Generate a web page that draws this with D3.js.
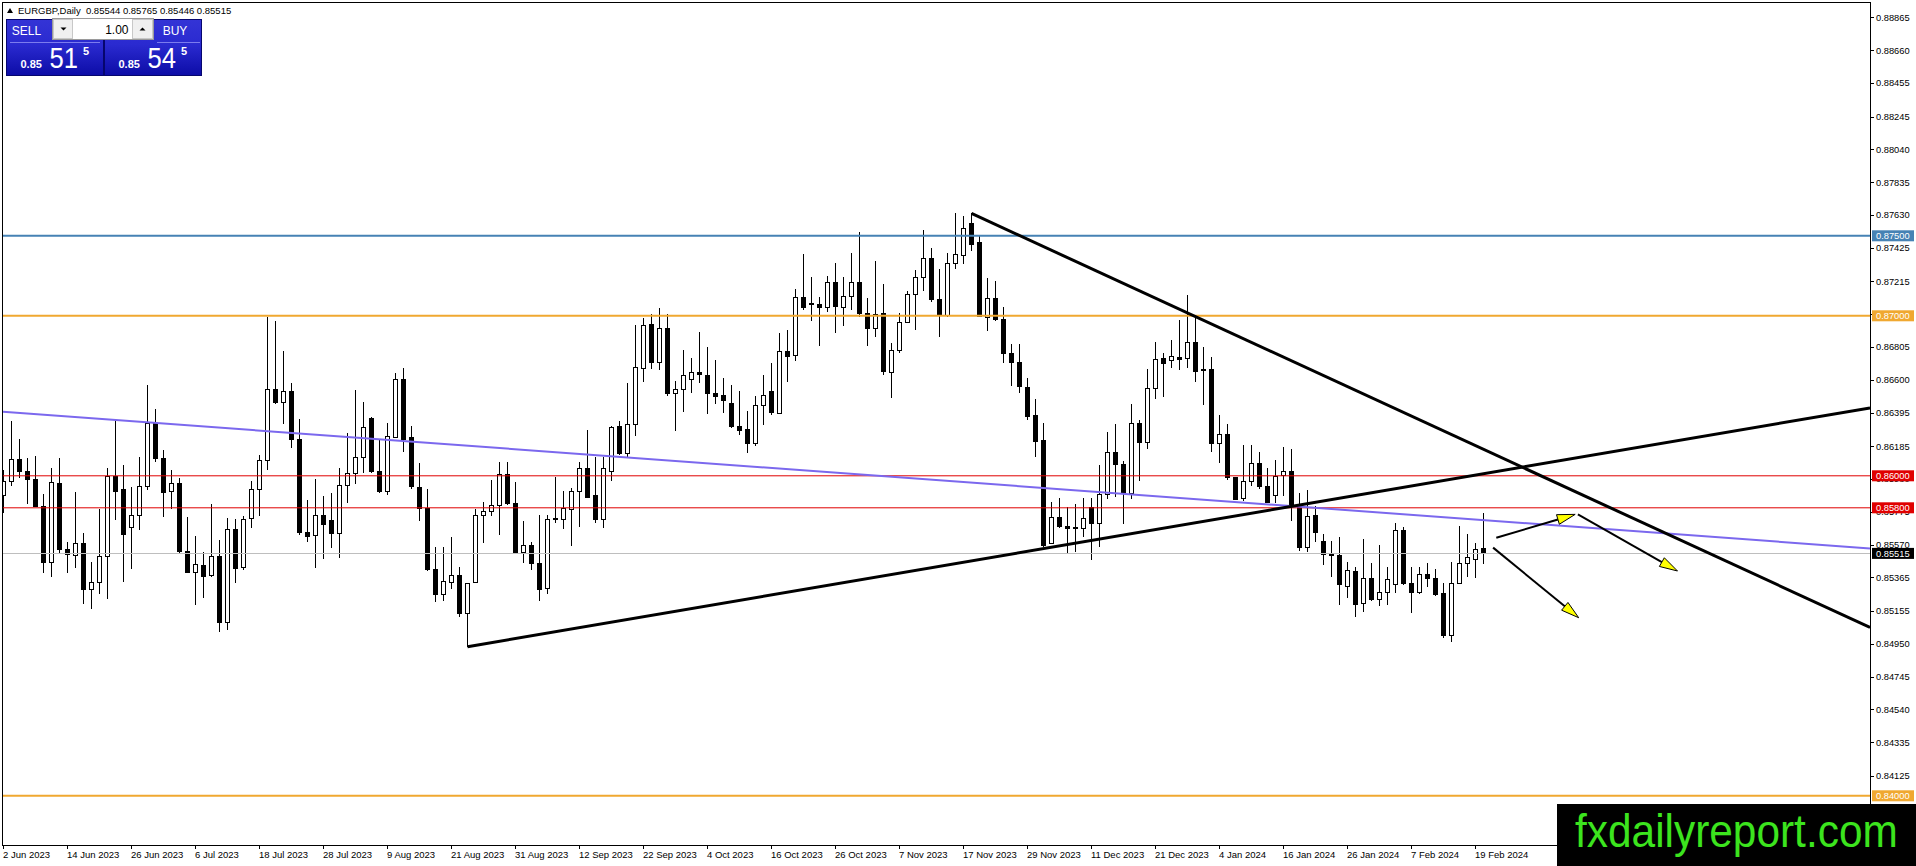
<!DOCTYPE html>
<html><head><meta charset="utf-8">
<script src="https://cdn.jsdelivr.net/npm/d3@7"></script>
<style>
html,body{margin:0;padding:0;background:#fff;overflow:hidden}
svg{display:block}
text{font-family:'Liberation Sans',Arial,sans-serif}
</style>
</head><body>
<svg id="chart" width="1916" height="866"></svg>
<script>
// ---------------- data (EURGBP Daily, 2 Jun 2023 – 20 Feb 2024) ----------------
const symbol = "EURGBP,Daily";
const opens = [0.85880,0.85964,0.86103,0.86028,0.85978,0.85807,0.85459,0.85953,0.85541,0.85503,
0.85578,0.85291,0.85334,0.85495,0.85995,0.85912,0.85678,0.85751,0.85932,0.86328,
0.86109,0.85901,0.85949,0.85530,0.85397,0.85439,0.85374,0.85495,0.85082,0.85662,
0.85426,0.85734,0.85916,0.86095,0.86537,0.86459,0.86530,0.86228,0.85647,0.85624,
0.85751,0.85718,0.85641,0.85937,0.86016,0.86116,0.86359,0.86030,0.85905,0.86241,
0.86599,0.86241,0.85928,0.85793,0.85416,0.85259,0.85334,0.85376,0.85141,0.85334,
0.85751,0.85776,0.85814,0.86009,0.85828,0.85522,0.85564,0.85453,0.85297,0.85724,
0.85724,0.85791,0.85901,0.86047,0.85874,0.85728,0.86026,0.86307,0.86137,0.86322,
0.86672,0.86943,0.86707,0.86922,0.86516,0.86541,0.86603,0.86647,0.86630,0.86516,
0.86499,0.86453,0.86307,0.86287,0.86203,0.86439,0.86530,0.86391,0.86780,0.86749,
0.87116,0.87078,0.87072,0.87053,0.87209,0.87053,0.87120,0.87209,0.87016,0.86922,
0.87016,0.86647,0.86782,0.86959,0.87134,0.87241,0.87359,0.87099,0.87005,0.87328,
0.87380,0.87574,0.87457,0.86991,0.87109,0.86974,0.86766,0.86709,0.86553,0.86374,
0.86220,0.85578,0.85741,0.85682,0.85670,0.85672,0.85803,0.85699,0.85884,0.86147,
0.86072,0.85891,0.86328,0.86209,0.86547,0.86734,0.86718,0.86740,0.86734,0.86834,
0.86665,0.86665,0.86203,0.86259,0.85990,0.85859,0.85967,0.86074,0.85936,0.85880,
0.85999,0.86026,0.85818,0.85553,0.85751,0.85592,0.85515,0.85501,0.85311,0.85405,
0.85199,0.85359,0.85224,0.85272,0.85322,0.85661,0.85324,0.85272,0.85384,0.85359,
0.85265,0.85001,0.85328,0.85453,0.85478,0.85544];
const highs = [0.86037,0.86343,0.86230,0.86112,0.86124,0.85884,0.86047,0.86109,0.85584,0.85897,
0.85641,0.85459,0.85793,0.86047,0.86345,0.86068,0.85928,0.86120,0.86568,0.86418,
0.86162,0.86037,0.85984,0.85741,0.85624,0.85522,0.85824,0.85599,0.85734,0.85728,
0.85749,0.85968,0.86130,0.86995,0.86970,0.86782,0.86582,0.86353,0.85849,0.85980,
0.85874,0.85895,0.86047,0.86270,0.86537,0.86464,0.86366,0.86224,0.86328,0.86641,
0.86672,0.86312,0.86078,0.85916,0.85553,0.85553,0.85616,0.85432,0.85332,0.85793,
0.85839,0.85974,0.86084,0.86084,0.85964,0.85718,0.85584,0.85755,0.85755,0.85995,
0.85907,0.85922,0.86089,0.86287,0.86120,0.86120,0.86312,0.86345,0.86578,0.86943,
0.86984,0.87012,0.87047,0.87012,0.86595,0.86787,0.86734,0.86897,0.86803,0.86724,
0.86609,0.86568,0.86532,0.86407,0.86501,0.86630,0.86703,0.86891,0.86911,0.87166,
0.87386,0.87241,0.87116,0.87249,0.87332,0.87241,0.87391,0.87522,0.87109,0.87343,
0.87197,0.86828,0.87016,0.87157,0.87286,0.87536,0.87422,0.87291,0.87391,0.87640,
0.87624,0.87640,0.87499,0.87234,0.87220,0.87053,0.86822,0.86822,0.86609,0.86478,
0.86332,0.85834,0.85859,0.85807,0.85822,0.85864,0.85859,0.86068,0.86272,0.86324,
0.86093,0.86449,0.86349,0.86666,0.86834,0.86770,0.86846,0.86974,0.87130,0.86984,
0.86807,0.86744,0.86380,0.86321,0.85994,0.86192,0.86192,0.86151,0.86047,0.86099,
0.86182,0.86165,0.85890,0.85911,0.85811,0.85636,0.85595,0.85620,0.85463,0.85432,
0.85603,0.85457,0.85568,0.85432,0.85703,0.85682,0.85432,0.85432,0.85453,0.85415,
0.85332,0.85463,0.85686,0.85634,0.85578,0.85765];
const lows = [0.85766,0.85939,0.85984,0.85822,0.85803,0.85391,0.85370,0.85512,0.85391,0.85422,
0.85197,0.85166,0.85259,0.85228,0.85724,0.85339,0.85416,0.85662,0.85912,0.86089,
0.85745,0.85791,0.85516,0.85395,0.85193,0.85234,0.85370,0.85022,0.85037,0.85332,
0.85412,0.85676,0.85749,0.86037,0.86449,0.86324,0.86172,0.85630,0.85589,0.85426,
0.85478,0.85547,0.85489,0.85828,0.85947,0.86016,0.86020,0.85895,0.85880,0.86234,
0.86151,0.85916,0.85720,0.85407,0.85214,0.85220,0.85291,0.85120,0.84932,0.85332,
0.85582,0.85749,0.85630,0.85818,0.85520,0.85453,0.85412,0.85218,0.85262,0.85703,
0.85666,0.85562,0.85682,0.85859,0.85707,0.85672,0.85968,0.86130,0.86116,0.86251,
0.86589,0.86666,0.86662,0.86499,0.86282,0.86401,0.86516,0.86578,0.86384,0.86449,
0.86391,0.86301,0.86255,0.86145,0.86189,0.86318,0.86380,0.86387,0.86588,0.86720,
0.87036,0.86970,0.86814,0.87026,0.86895,0.86937,0.87036,0.86991,0.86814,0.86870,
0.86630,0.86484,0.86770,0.86953,0.86911,0.87157,0.87088,0.86870,0.86991,0.87293,
0.87324,0.87407,0.86991,0.86905,0.86970,0.86703,0.86561,0.86516,0.86349,0.86120,
0.85557,0.85572,0.85672,0.85516,0.85526,0.85620,0.85474,0.85557,0.85855,0.85870,
0.85699,0.85855,0.85968,0.86166,0.86478,0.86491,0.86672,0.86661,0.86672,0.86584,
0.86442,0.86151,0.86082,0.85974,0.85849,0.85842,0.85936,0.85915,0.85828,0.85828,
0.85874,0.85719,0.85532,0.85526,0.85588,0.85443,0.85365,0.85193,0.85234,0.85115,
0.85151,0.85220,0.85188,0.85193,0.85270,0.85318,0.85141,0.85261,0.85303,0.85249,
0.84984,0.84963,0.85324,0.85370,0.85359,0.85446];
const closes = [0.85964,0.86103,0.86026,0.85978,0.85807,0.85459,0.85959,0.85541,0.85509,0.85578,
0.85287,0.85332,0.85495,0.85995,0.85901,0.85634,0.85751,0.85932,0.86328,0.86107,
0.85895,0.85949,0.85526,0.85397,0.85447,0.85370,0.85495,0.85082,0.85662,0.85422,
0.85724,0.85916,0.86095,0.86537,0.86457,0.86530,0.86228,0.85645,0.85620,0.85751,
0.85697,0.85641,0.85937,0.86016,0.86116,0.86303,0.86026,0.85901,0.86245,0.86599,
0.86224,0.85932,0.85797,0.85412,0.85259,0.85339,0.85374,0.85137,0.85328,0.85751,
0.85776,0.85814,0.86009,0.85824,0.85522,0.85564,0.85453,0.85291,0.85728,0.85732,
0.85797,0.85905,0.86047,0.85864,0.85724,0.86047,0.86301,0.86137,0.86322,0.86676,
0.86939,0.86707,0.86922,0.86512,0.86541,0.86624,0.86647,0.86634,0.86516,0.86495,
0.86470,0.86307,0.86282,0.86203,0.86439,0.86501,0.86395,0.86780,0.86745,0.87116,
0.87051,0.87068,0.87053,0.87209,0.87057,0.87120,0.87209,0.87016,0.86922,0.87009,
0.86651,0.86782,0.86959,0.87134,0.87238,0.87359,0.87099,0.87005,0.87328,0.87384,
0.87547,0.87447,0.86995,0.87109,0.86974,0.86766,0.86709,0.86557,0.86370,0.86213,
0.85563,0.85741,0.85682,0.85668,0.85674,0.85734,0.85699,0.85884,0.86147,0.86068,
0.85891,0.86328,0.86207,0.86547,0.86728,0.86703,0.86743,0.86730,0.86834,0.86655,
0.86659,0.86203,0.86259,0.85990,0.85855,0.85967,0.86074,0.85932,0.85832,0.85994,
0.86026,0.85818,0.85551,0.85744,0.85646,0.85509,0.85499,0.85318,0.85407,0.85197,
0.85359,0.85228,0.85272,0.85353,0.85657,0.85324,0.85272,0.85384,0.85359,0.85261,
0.85001,0.85328,0.85453,0.85490,0.85542,0.85515];

const dateLabels = ["2 Jun 2023","14 Jun 2023","26 Jun 2023","6 Jul 2023","18 Jul 2023","28 Jul 2023",
"9 Aug 2023","21 Aug 2023","31 Aug 2023","12 Sep 2023","22 Sep 2023","4 Oct 2023","16 Oct 2023",
"26 Oct 2023","7 Nov 2023","17 Nov 2023","29 Nov 2023","11 Dec 2023","21 Dec 2023","4 Jan 2024",
"16 Jan 2024","26 Jan 2024","7 Feb 2024","19 Feb 2024"];
const barsPerLabel = 8;

const priceTicks = [0.88865,0.88660,0.88455,0.88245,0.88040,0.87835,0.87630,0.87425,0.87215,0.87010,
0.86805,0.86600,0.86395,0.86185,0.85980,0.85775,0.85570,0.85365,0.85155,0.84950,0.84745,0.84540,
0.84335,0.84125];

const levelPrices = [0.87500, 0.87000, 0.86000, 0.85800, 0.84000];
const bidPrice = 0.85515, askPrice = 0.85545, lotSize = "1.00";

// drawn objects, anchors as [bar index, price]
const supportLine = [[58, 0.84932], [130, 0.85545]];
const resistanceLine = [[121, 0.87640], [212.1, 0.85541]];
const channelLine = [[0, 0.86400], [185, 0.85723]];
const arrowsUp = [[[186.6, 0.85613], [196.46, 0.85759]]];
const arrowsDown = [[[196.8, 0.85759], [209.25, 0.85405]], [[186.2, 0.85551], [196.9, 0.85113]]];

// ---------------- layout ----------------
const W = 1916, H = 866;
const P = {l: 3, t: 3, r: 1870, b: 845};
const levelStyle = {
  "0.87500": {color: "#4682B4", w: 2},
  "0.87000": {color: "#F0A830", w: 2},
  "0.86000": {color: "#E00000", w: 1},
  "0.85800": {color: "#E00000", w: 1},
  "0.84000": {color: "#F0A830", w: 2}
};

const svg = d3.select("#chart");
const x = d3.scaleLinear().domain([0, opens.length - 1]).range([3.5, 3.5 + 8 * (opens.length - 1)]);
const y = d3.scaleLinear().domain([0.836925, 0.88955]).range([P.b, P.t]);

const defs = svg.append("defs");
defs.append("clipPath").attr("id", "plotclip").append("rect")
  .attr("x", P.l).attr("y", P.t).attr("width", P.r - P.l).attr("height", P.b - P.t);
const grad = defs.append("linearGradient").attr("id", "pg").attr("x1", 0).attr("y1", 0).attr("x2", 0).attr("y2", 1);
grad.append("stop").attr("offset", 0).attr("stop-color", "#3434d6");
grad.append("stop").attr("offset", 0.45).attr("stop-color", "#2a2ad0");
grad.append("stop").attr("offset", 1).attr("stop-color", "#0c0ca6");

const plot = svg.append("g").attr("clip-path", "url(#plotclip)");

// candles
const bars = opens.map((o, i) => ({i, o, h: highs[i], l: lows[i], c: closes[i]}));
const cg = plot.append("g").attr("shape-rendering", "crispEdges");
cg.selectAll("line").data(bars).join("line")
  .attr("x1", d => x(d.i)).attr("x2", d => x(d.i))
  .attr("y1", d => y(d.h)).attr("y2", d => y(d.l))
  .attr("stroke", "#000").attr("stroke-width", 1);
cg.selectAll("rect").data(bars).join("rect")
  .attr("x", d => x(d.i) - 2).attr("width", 4)
  .attr("y", d => y(Math.max(d.o, d.c)))
  .attr("height", d => Math.max(0.6, Math.abs(y(d.o) - y(d.c))))
  .attr("fill", d => d.c >= d.o ? "#fff" : "#000")
  .attr("stroke", "#000").attr("stroke-width", 1);

// horizontal levels
const lg = plot.append("g");
lg.selectAll("line").data(levelPrices).join("line")
  .attr("x1", P.l).attr("x2", P.r)
  .attr("y1", d => y(d)).attr("y2", d => y(d))
  .attr("stroke", d => levelStyle[d.toFixed(5)].color)
  .attr("stroke-width", d => levelStyle[d.toFixed(5)].w);
// bid line
plot.append("line").attr("x1", P.l).attr("x2", P.r).attr("y1", y(bidPrice)).attr("y2", y(bidPrice))
  .attr("stroke", "#BEBEBE").attr("stroke-width", 1).attr("shape-rendering", "crispEdges");

// trendlines
const idxRight = x.invert(P.r), idxLeft = x.invert(P.l);
function priceAt(a, idx) {
  const [[i0, p0], [i1, p1]] = a;
  return p0 + (p1 - p0) * (idx - i0) / (i1 - i0);
}
function drawLine(a, from, to, color, w) {
  plot.append("line")
    .attr("x1", x(from)).attr("y1", y(priceAt(a, from)))
    .attr("x2", x(to)).attr("y2", y(priceAt(a, to)))
    .attr("stroke", color).attr("stroke-width", w).attr("stroke-linecap", "butt");
}
drawLine(channelLine, idxLeft, idxRight, "#7B68EE", 2);
drawLine(supportLine, supportLine[0][0], idxRight, "#000", 3);
drawLine(resistanceLine, resistanceLine[0][0], idxRight, "#000", 3);

// arrows
function drawArrow(a) {
  const sx = x(a[0][0]), sy = y(a[0][1]), tx = x(a[1][0]), ty = y(a[1][1]);
  const len = Math.hypot(tx - sx, ty - sy), ux = (tx - sx) / len, uy = (ty - sy) / len;
  const nx = -uy, ny = ux, hl = 18, hw = 5;
  const bx = tx - ux * hl, by = ty - uy * hl;
  plot.append("line").attr("x1", sx).attr("y1", sy).attr("x2", bx).attr("y2", by)
    .attr("stroke", "#000").attr("stroke-width", 2);
  plot.append("polygon")
    .attr("points", [[tx, ty], [bx + nx * hw, by + ny * hw], [bx - nx * hw, by - ny * hw]].map(p => p.join(",")).join(" "))
    .attr("fill", "#FFFF00").attr("stroke", "#000").attr("stroke-width", 1).attr("stroke-linejoin", "miter");
}
arrowsUp.concat(arrowsDown).forEach(drawArrow);

// frame
svg.append("rect").attr("x", P.l - 0.5).attr("y", P.t - 0.5).attr("width", P.r - P.l + 0.5).attr("height", P.b - P.t + 0.5)
  .attr("fill", "none").attr("stroke", "#000").attr("stroke-width", 1).attr("shape-rendering", "crispEdges");

// price axis
const ax = svg.append("g");
ax.selectAll("line").data(priceTicks).join("line")
  .attr("x1", P.r).attr("x2", P.r + 4).attr("y1", d => Math.round(y(d)) + 0.5).attr("y2", d => Math.round(y(d)) + 0.5)
  .attr("stroke", "#000").attr("stroke-width", 1);
ax.selectAll("text").data(priceTicks).join("text")
  .attr("x", P.r + 6).attr("y", d => y(d) + 3.3)
  .attr("font-size", "9.3px").attr("fill", "#000")
  .text(d => d.toFixed(5));

// level labels
const labels = levelPrices.map(p => ({p, bg: levelStyle[p.toFixed(5)].color})).concat([{p: bidPrice, bg: "#000"}]);
const lbl = svg.append("g").selectAll("g").data(labels).join("g");
lbl.append("rect").attr("x", P.r + 2).attr("y", d => y(d.p) - 5.5).attr("width", 42).attr("height", 11).attr("fill", d => d.bg);
lbl.append("text").attr("x", P.r + 6).attr("y", d => y(d.p) + 3.3).attr("font-size", "9.3px").attr("fill", "#fff")
  .text(d => d.p.toFixed(5));

// time axis
const tg = svg.append("g");
const tickIdx = dateLabels.map((d, k) => k * barsPerLabel);
tg.selectAll("line").data(tickIdx).join("line")
  .attr("x1", d => x(d)).attr("x2", d => x(d)).attr("y1", P.b).attr("y2", P.b + 4)
  .attr("stroke", "#000").attr("stroke-width", 1).attr("shape-rendering", "crispEdges");
tg.selectAll("text").data(dateLabels).join("text")
  .attr("x", (d, k) => x(tickIdx[k]) - 0.5).attr("y", 857.5)
  .attr("font-size", "9.5px").attr("fill", "#000")
  .text(d => d);

// header
const last = opens.length - 1;
svg.append("polygon").attr("points", "7,13 13,13 10,8").attr("fill", "#000");
svg.append("text").attr("x", 18).attr("y", 14).attr("font-size", "9.5px").attr("fill", "#000")
  .style("white-space", "pre")
  .text(symbol + "  " + [opens[last], highs[last], lows[last], closes[last]].map(v => v.toFixed(5)).join(" "));

// one-click trading panel
const pan = svg.append("g");
[[6.5, bidPrice], [104.5, askPrice]].forEach(([bx, price], k) => {
  pan.append("rect").attr("x", bx).attr("y", 19.5).attr("width", 97).attr("height", 56)
    .attr("fill", "url(#pg)").attr("stroke", "#06066e").attr("stroke-width", 1);
  const s = price.toFixed(5);
  pan.append("text").attr("x", bx + 14).attr("y", 68.3).attr("font-size", "11px").attr("font-weight", "bold")
    .attr("fill", "#fff").text(s.slice(0, 4));
  pan.append("text").attr("x", bx + 43).attr("y", 68.3).attr("font-size", "30px").attr("fill", "#fff")
    .attr("textLength", 28.5).attr("lengthAdjust", "spacingAndGlyphs").text(s.slice(4, 6));
  pan.append("text").attr("x", bx + 76.5).attr("y", 54.5).attr("font-size", "11px").attr("font-weight", "bold")
    .attr("fill", "#fff").text(s.slice(6));
});
pan.append("line").attr("x1", 10).attr("x2", 100).attr("y1", 42.5).attr("y2", 42.5).attr("stroke", "#7c7cee");
pan.append("line").attr("x1", 157).attr("x2", 200).attr("y1", 42.5).attr("y2", 42.5).attr("stroke", "#7c7cee");
pan.append("text").attr("x", 26.5).attr("y", 35).attr("text-anchor", "middle").attr("font-size", "12px").attr("fill", "#fff").text("SELL");
pan.append("text").attr("x", 175).attr("y", 35).attr("text-anchor", "middle").attr("font-size", "12px").attr("fill", "#fff").text("BUY");
// lot spinner
pan.append("rect").attr("x", 52.5).attr("y", 18.5).attr("width", 101).attr("height", 21).attr("fill", "#fff").attr("stroke", "#9a9a9a");
pan.append("rect").attr("x", 53.5).attr("y", 19.5).attr("width", 19).attr("height", 19).attr("fill", "#f0f0f0").attr("stroke", "#c8c8c8");
pan.append("rect").attr("x", 132.5).attr("y", 19.5).attr("width", 20).attr("height", 19).attr("fill", "#f0f0f0").attr("stroke", "#c8c8c8");
pan.append("polygon").attr("points", "60.5,27.5 66.5,27.5 63.5,30.5").attr("fill", "#000");
pan.append("polygon").attr("points", "139.5,30.5 145.5,30.5 142.5,27.5").attr("fill", "#000");
pan.append("text").attr("x", 128.5).attr("y", 34).attr("text-anchor", "end").attr("font-size", "12px").attr("fill", "#000").text(lotSize);

// watermark
svg.append("rect").attr("x", 1557).attr("y", 804).attr("width", W - 1557).attr("height", H - 804).attr("fill", "#000");
svg.append("g").attr("transform", "translate(1575,846.5) scale(1,1.1)")
  .append("text").attr("x", 0).attr("y", 0).attr("font-size", "42.4px").attr("fill", "#3CE41E")
  .text("fxdailyreport.com");
</script>
</body></html>
